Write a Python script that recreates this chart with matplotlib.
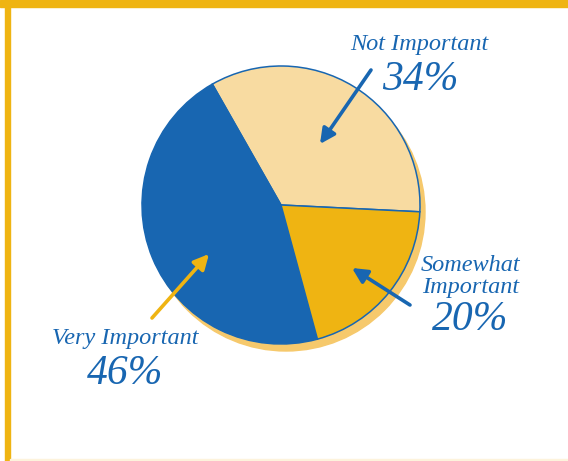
import matplotlib
matplotlib.use("Agg")
from matplotlib import pyplot as plt
from matplotlib.patches import Circle, Rectangle

labels = ["Not Important", "Very Important", "Somewhat Important"]
shares = [34, 46, 20]

BLUE = "#1866b1"
GOLD = "#efb412"
PEACH = "#f8dba1"
SHADOW = "#f6c96c"
slice_colors = [PEACH, BLUE, GOLD]

W, H = 568, 461
fig = plt.figure(figsize=(W / 100, H / 100), dpi=100)
ax = fig.add_axes([0, 0, 1, 0.999999])

cx, cy, r = 281, H - 205, 139

# shadow behind the pie
ax.add_patch(Circle((cx + 5, cy - 7), r, color=SHADOW, zorder=0))
ax.pie(shares, colors=slice_colors, startangle=-2.8, counterclock=True,
       center=(cx, cy), radius=r,
       wedgeprops=dict(edgecolor=BLUE, linewidth=1.1))

# frame bars
ax.add_patch(Rectangle((0, H - 7), W, 7, color=GOLD, zorder=5, clip_on=False))
ax.add_patch(Rectangle((5, 0), 5, H, color=GOLD, zorder=5, clip_on=False))
ax.add_patch(Rectangle((10, 0), W, 2, color="#fdf3dc", zorder=5, clip_on=False))

serif = ["Liberation Serif", "DejaVu Serif"]
small = dict(family=serif, style="italic", color=BLUE, fontsize=17.5,
             ha="center", va="center")
big = dict(family=serif, style="italic", color=BLUE, fontsize=30,
           ha="center", va="center")

ax.text(419, H - 44, labels[0], **small)
ax.text(420, H - 80, f"{shares[0]}%", **big)
ax.text(471, H - 265, "Somewhat", **small)
ax.text(471, H - 287, "Important", **small)
ax.text(470, H - 320, f"{shares[2]}%", **big)
ax.text(125, H - 338, labels[1], **small)
ax.text(125, H - 374, f"{shares[1]}%", **big)

def pointer(x0, y0, x1, y1, color):
    ax.annotate("", xy=(x1, H - y1), xytext=(x0, H - y0),
                arrowprops=dict(arrowstyle="-|>,head_length=0.9,head_width=0.45",
                                color=color, lw=2.6, shrinkA=0, shrinkB=0))

pointer(371, 70, 320, 144, BLUE)
pointer(410, 305, 352, 268, BLUE)
pointer(152, 318, 209, 254, GOLD)

ax.set_xlim(0, W)
ax.set_ylim(0, H)
ax.set_aspect("equal")
ax.axis("off")

fig.savefig("out.png", dpi=100, facecolor="white")
